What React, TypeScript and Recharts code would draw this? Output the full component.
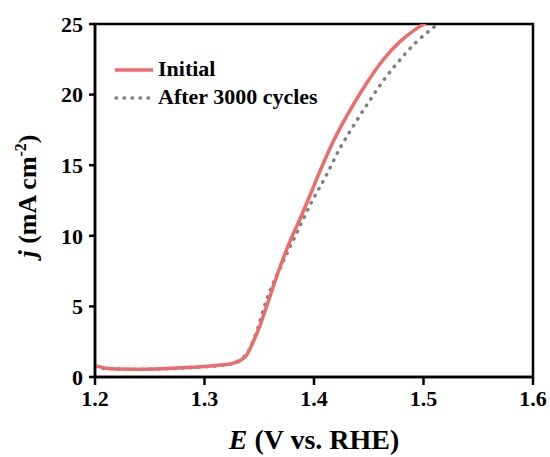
import React from 'react';
import { LineChart, Line, XAxis, YAxis, ReferenceArea, Legend } from 'recharts';

const initialE = [1.2, 1.21, 1.22, 1.24, 1.26, 1.28, 1.3, 1.315, 1.325, 1.332, 1.338, 1.344, 1.35, 1.358, 1.369, 1.378, 1.387, 1.396, 1.405, 1.418, 1.433, 1.448, 1.463, 1.4785, 1.494, 1.502];
const initialJ = [0.8, 0.62, 0.56, 0.55, 0.58, 0.65, 0.74, 0.85, 0.95, 1.15, 1.5, 2.4, 3.5, 5.3, 7.8, 9.6, 11.15, 12.8, 14.5, 16.75, 18.9, 20.8, 22.45, 23.75, 24.69, 25.05];

const cycledE = [1.2, 1.21, 1.23, 1.26, 1.29, 1.315, 1.328, 1.335, 1.342, 1.348, 1.356, 1.3705, 1.384, 1.398, 1.41, 1.4237, 1.4374, 1.4511, 1.4648, 1.4785, 1.4922, 1.5043, 1.512, 1.514];
const cycledJ = [0.8, 0.6, 0.55, 0.57, 0.68, 0.82, 1.0, 1.35, 2.1, 3.3, 5.3, 7.95, 10.17, 12.42, 14.1, 16.2, 17.96, 19.6, 21.15, 22.45, 23.63, 24.46, 24.93, 25.05];

const seriesNames = ['Initial', 'After 3000 cycles'];
const xTicks = [1.2, 1.3, 1.4, 1.5, 1.6];
const yTicks = [0, 5, 10, 15, 20, 25];

const initialData = initialE.map((e, i) => ({ E: e, j: initialJ[i] }));
const cycledData = cycledE.map((e, i) => ({ E: e, j: cycledJ[i] }));

const FONT = '"Liberation Serif", "Times New Roman", serif';
const RED = '#EF6B6B';
const GRAY = '#808080';

const XTitle = (props: any) => {
  const vb = props.viewBox || {};
  const cx = vb.x + vb.width / 2;
  return (
    <text x={cx} y={449} textAnchor="middle" fontFamily={FONT} fontWeight="bold" fontSize={28} fill="#000">
      <tspan fontStyle="italic">E</tspan>
      <tspan> (V vs. RHE)</tspan>
    </text>
  );
};

const YTitle = () => {
  return (
    <text x={0} y={0} transform="translate(36,196) rotate(-90)" textAnchor="middle" fontFamily={FONT} fontWeight="bold" fontSize={26} fill="#000">
      <tspan fontStyle="italic">j</tspan>
      <tspan> (mA cm</tspan>
      <tspan fontSize={16} dy={-10}>-2</tspan>
      <tspan dy={10}>)</tspan>
    </text>
  );
};

const LegendContent = () => (
  <svg width={550} height={120} style={{ display: 'block' }}>
    <line x1={115} y1={70} x2={153} y2={70} stroke={RED} strokeWidth={3.5} />
    <text x={158} y={76} fontFamily={FONT} fontWeight="bold" fontSize={22} fill="#000">{seriesNames[0]}</text>
    <line x1={116} y1={98} x2={153} y2={98} stroke={GRAY} strokeWidth={3.5} strokeDasharray="0.5 7.5" strokeLinecap="round" />
    <text x={158} y={104} fontFamily={FONT} fontWeight="bold" fontSize={22} fill="#000">{seriesNames[1]}</text>
  </svg>
);

export default function App() {
  return (
    <div style={{ position: 'absolute', left: 0, top: 0, width: 550, height: 457, background: '#fff' }}>
      <LineChart width={550} height={457} margin={{ top: 24, right: 17, left: 0, bottom: 0 }}>
        <XAxis
          dataKey="E"
          type="number"
          domain={[1.2, 1.6]}
          ticks={xTicks}
          allowDataOverflow
          height={80}
          tickSize={8}
          tickMargin={5}
          axisLine={{ stroke: '#000', strokeWidth: 2.5 }}
          tickLine={{ stroke: '#000', strokeWidth: 2.5 }}
          tick={{ fill: '#000', fontFamily: FONT, fontWeight: 'bold', fontSize: 22 }}
          tickFormatter={(v: number) => v.toFixed(1)}
          label={<XTitle />}
        />
        <YAxis
          type="number"
          domain={[0, 25]}
          ticks={yTicks}
          allowDataOverflow
          width={95}
          tickSize={6}
          tickMargin={6}
          axisLine={{ stroke: '#000', strokeWidth: 2.5 }}
          tickLine={{ stroke: '#000', strokeWidth: 2.5 }}
          tick={{ fill: '#000', fontFamily: FONT, fontWeight: 'bold', fontSize: 22 }}
          label={<YTitle />}
        />
        <ReferenceArea x1={1.2} x2={1.6} y1={0} y2={25} fill="none" stroke="#000" strokeWidth={2.5} ifOverflow="visible" />
        <Line data={cycledData} dataKey="j" name={seriesNames[1]} type="monotone" stroke={GRAY} strokeWidth={3.5} strokeDasharray="0.5 7.5" strokeLinecap="round" dot={false} isAnimationActive={false} />
        <Line data={initialData} dataKey="j" name={seriesNames[0]} type="monotone" stroke={RED} strokeWidth={3.5} dot={false} isAnimationActive={false} />
        <Legend layout="horizontal" verticalAlign="middle" align="center" content={<LegendContent />} wrapperStyle={{ left: 0, top: 0, width: 550, height: 120 }} />
      </LineChart>
    </div>
  );
}
